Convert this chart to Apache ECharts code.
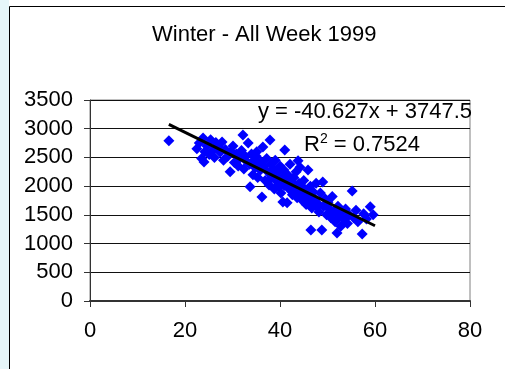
<!DOCTYPE html>
<html>
<head>
<meta charset="utf-8">
<script src="https://cdn.jsdelivr.net/npm/echarts@6/dist/echarts.min.js"></script>
<style>
html,body{margin:0;padding:0;background:#ffffff;}
#chart{width:505px;height:369px;}
</style>
</head>
<body>
<div id="chart"></div>
<script>
// Scatter values
var pointX = [16.6,22.5,23.0,23.5,23.8,24.2,24.0,24.6,25.1,25.4,25.8,26.2,26.5,27.0,27.4,27.8,28.1,28.5,29.0,29.5,
  29.7,30.1,30.4,30.8,31.2,31.5,31.9,32.2,32.4,32.7,33.0,33.3,33.6,33.7,34.0,34.3,34.5,34.8,35.1,35.3,
  35.6,35.9,36.2,36.4,36.6,36.9,37.2,37.4,37.7,37.9,38.1,38.3,38.6,38.8,39.0,39.3,39.5,39.8,40.0,40.2,
  40.5,40.6,40.8,41.0,41.2,41.5,41.6,41.9,42.1,42.4,42.6,42.9,43.1,43.4,43.6,43.8,44.0,44.2,44.5,44.7,
  45.0,45.2,45.5,45.9,46.1,46.4,46.5,46.7,47.0,47.3,47.6,47.9,48.2,48.5,48.8,49.0,49.2,49.5,49.8,50.1,
  50.4,50.7,51.0,51.3,51.6,52.0,52.2,52.5,52.8,53.1,53.5,53.8,54.2,54.6,55.2,55.5,56.0,56.4,57.3,57.6,
  58.2,59.0,59.6,38.9,39.6,40.9,41.4,42.8,43.3,44.9,45.7,46.9,47.8,36.0,35.0,38.0,40.4,42.3,44.4,46.2];
var pointY = [2790,2650,2750,2480,2840,2600,2420,2700,2550,2810,2620,2500,2760,2680,2590,2770,2450,2640,2520,2250,
  2600,2700,2410,2560,2350,2480,2620,2890,2300,2520,2430,2750,2380,1990,2560,2200,2450,2320,2600,2150,
  2400,2280,1810,2680,2350,2100,2480,2250,2020,2805,2380,2180,2300,1950,2450,2100,2240,2000,2350,1880,
  2150,1725,2280,2630,2050,1710,2200,1950,2380,2080,1850,2150,1980,2250,1800,2440,2050,2330,1900,1750,
  2100,1950,1680,2280,1850,2000,1237,1620,1900,1780,2050,1700,1550,1880,1237,2070,1650,1780,1500,1720,
  1600,1450,1820,1550,1380,1185,1650,1480,1300,1560,1420,1600,1350,1500,1916,1450,1580,1380,1167,1520,
  1430,1640,1500,2200,2060,2010,2150,1920,1870,1820,1760,1720,1640,2420,2520,2120,2040,2000,1990,1760];
// Trend line end points
var trendX = [16.6, 60];
var trendY = [3074, 1310];
var xTicks = [0, 20, 40, 60, 80];
var yTicks = [0, 500, 1000, 1500, 2000, 2500, 3000, 3500];
var titleText = 'Winter - All Week 1999';
var equationText = 'y = -40.627x + 3747.5';
var r2Value = '0.7524';

var scatterData = pointX.map(function (x, i) { return [x, pointY[i]]; });
var trendData = trendX.map(function (x, i) { return [x, trendY[i]]; });

var FONT = 'Liberation Sans, Arial, sans-serif';
var FS = 22;
var chart = echarts.init(document.getElementById('chart'), null, {renderer: 'canvas'});
chart.setOption({
  animation: false,
  backgroundColor: '#ffffff',
  title: {
    text: titleText,
    left: 147,
    top: 19,
    textStyle: {fontFamily: FONT, fontSize: FS, fontWeight: 'normal', color: '#000'}
  },
  graphic: [
    {type: 'rect', z: -10, shape: {x: 0, y: 0, width: 9, height: 369}, style: {fill: '#e6f6f9'}},
    {type: 'rect', z: -9, shape: {x: 9.5, y: 6.5, width: 600, height: 400}, style: {fill: '#ffffff', stroke: '#000', lineWidth: 1}},
    {type: 'text', z: 100, x: 472, y: 112,
      style: {text: equationText, font: FS + 'px ' + FONT, fill: '#000', align: 'right', verticalAlign: 'middle'}},
    {type: 'text', z: 100, x: 304, y: 144,
      style: {text: '{r|R}{s|2}{r| = ' + r2Value + '}', fill: '#000', align: 'left', verticalAlign: 'middle',
        rich: {
          r: {fontFamily: FONT, fontSize: FS, lineHeight: 23, verticalAlign: 'bottom'},
          s: {fontFamily: FONT, fontSize: 14, lineHeight: 23, verticalAlign: 'top'}
        }}}
  ],
  grid: {left: 90, right: 35, top: 100, bottom: 68, show: true, borderColor: '#808080', borderWidth: 1, backgroundColor: 'transparent'},
  xAxis: {
    type: 'value', min: xTicks[0], max: xTicks[xTicks.length - 1], interval: 20,
    axisLine: {show: true, onZero: false, lineStyle: {color: '#333', width: 2}},
    axisTick: {show: true, inside: false, length: 6, lineStyle: {color: '#333'}},
    splitLine: {show: false},
    axisLabel: {margin: 19, fontFamily: FONT, fontSize: FS, color: '#000'}
  },
  yAxis: {
    type: 'value', min: yTicks[0], max: yTicks[yTicks.length - 1], interval: 500,
    axisLine: {show: true, onZero: false, lineStyle: {color: '#333', width: 1}},
    axisTick: {show: true, inside: false, length: 6, lineStyle: {color: '#333'}},
    splitLine: {show: true, lineStyle: {color: '#111', width: 1}},
    axisLabel: {margin: 17, fontFamily: FONT, fontSize: FS, color: '#000',
      formatter: function (v) { return String(v); }}
  },
  series: [
    {type: 'scatter', data: scatterData, symbol: 'diamond', symbolSize: 11,
      itemStyle: {color: '#0000ff', opacity: 1}, z: 3},
    {type: 'line', data: trendData, symbol: 'none', z: 4,
      lineStyle: {color: '#000', width: 3}}
  ]
});
</script>
</body>
</html>
